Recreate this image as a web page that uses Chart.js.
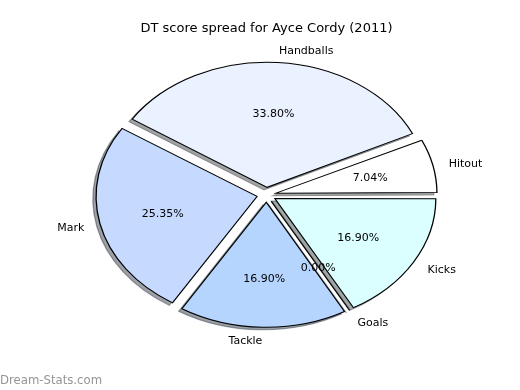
<!DOCTYPE html>
<html lang="en">
<head>
    <meta charset="UTF-8">
    <title>DT score spread for Ayce Cordy (2011)</title>
    <script src="https://cdn.jsdelivr.net/npm/chart.js"></script>
    <style>
        body { margin: 0; background: #fff; }
        .chart-container { width: 520px; height: 390px; }
    </style>
</head>
<body>
    <div class="chart-container">
        <canvas id="pieChart"></canvas>
    </div>

    <script>
        // Slices in matplotlib order (counter-clockwise from 3 o'clock)
        const categories = ['Hitout', 'Handballs', 'Mark', 'Tackle', 'Goals', 'Kicks'];
        const counts = [5, 24, 18, 12, 0, 12];
        const sliceColors = ['#ffffff', '#eaf1ff', '#c6d9ff', '#b5d5ff', '#d8e8ff', '#dbffff'];
        const chartTitle = 'DT score spread for Ayce Cordy (2011)';
        const watermark = 'Dream-Stats.com';

        const total = counts.reduce((a, b) => a + b, 0);
        const pctLabels = counts.map(v => (v / total * 100).toFixed(2) + '%');

        // geometry of the elliptical, exploded pie
        const R = 125;            // vertical radius
        const SX = 161 / 125;     // horizontal stretch
        const EXPLODE = 0.06;
        const OFF = EXPLODE * R;

        // chart.js draws clockwise, so feed it reversed
        const order = categories.map((c, i) => i).reverse();

        function shadowColor(hex) {
            const n = parseInt(hex.slice(1), 16);
            const r = Math.round(((n >> 16) & 255) * 0.3);
            const g = Math.round(((n >> 8) & 255) * 0.3);
            const b = Math.round((n & 255) * 0.3);
            return `rgba(${r}, ${g}, ${b}, 0.5)`;
        }

        function goalsLine(ctx, el, color) {
            if (el.endAngle - el.startAngle > 0) return;
            const a = el.startAngle;
            const ox = el.x + Math.cos(a) * OFF, oy = el.y + Math.sin(a) * OFF;
            ctx.beginPath();
            ctx.moveTo(ox, oy);
            ctx.lineTo(ox + Math.cos(a) * R, oy + Math.sin(a) * R);
            ctx.strokeStyle = color;
            ctx.lineWidth = 1;
            ctx.stroke();
        }

        const mplPie = {
            id: 'mplPie',
            afterDatasetsUpdate(chart) {
                // undo chart.js growing the radius of offset arcs
                chart.getDatasetMeta(0).data.forEach(el => {
                    const circ = el.endAngle - el.startAngle;
                    const fix = 1 - Math.sin(Math.min(Math.PI, circ));
                    el.outerRadius = R - OFF * fix;
                });
            },
            beforeDatasetsDraw(chart) {
                const ctx = chart.ctx;
                const cx = (chart.chartArea.left + chart.chartArea.right) / 2;
                ctx.save();
                ctx.translate(cx, 0);
                ctx.scale(SX, 1);
                ctx.translate(-cx, 0);
                // shadows under all wedges
                chart.getDatasetMeta(0).data.forEach((el, i) => {
                    const sc = shadowColor(sliceColors[order[i]]);
                    ctx.save();
                    ctx.translate(-2.5, 2.5);
                    const saved = el.options;
                    el.options = { ...saved, backgroundColor: sc, borderColor: sc };
                    el.draw(ctx);
                    el.options = saved;
                    goalsLine(ctx, el, sc);
                    ctx.restore();
                });
            },
            afterDatasetsDraw(chart) {
                const ctx = chart.ctx;
                chart.getDatasetMeta(0).data.forEach(el => goalsLine(ctx, el, '#000'));
                ctx.restore();

                ctx.save();
                ctx.fillStyle = '#000';
                ctx.font = '11px "DejaVu Sans"';
                ctx.textBaseline = 'middle';
                chart.getDatasetMeta(0).data.forEach((el, i) => {
                    const k = order[i];
                    const mid = (el.startAngle + el.endAngle) / 2;
                    const c = Math.cos(mid), s = Math.sin(mid);
                    const dl = (1.1 + EXPLODE) * R;
                    ctx.textAlign = c > 0 ? 'left' : 'right';
                    ctx.fillText(categories[k], el.x + SX * dl * c, el.y + dl * s + 1.5);
                    const dp = (0.6 + EXPLODE) * R;
                    ctx.textAlign = 'center';
                    ctx.fillText(pctLabels[k], el.x + SX * dp * c, el.y + dp * s + 1.5);
                });
                ctx.restore();
            },
            afterDraw(chart) {
                const ctx = chart.ctx;
                ctx.save();
                ctx.fillStyle = '#959595';
                ctx.font = '11.7px "DejaVu Sans"';
                ctx.textAlign = 'left';
                ctx.textBaseline = 'alphabetic';
                ctx.fillText(watermark, 0, 384);
                ctx.restore();
            }
        };

        const ctx = document.getElementById('pieChart').getContext('2d');
        const pieChart = new Chart(ctx, {
            type: 'pie',
            data: {
                labels: order.map(i => categories[i]),
                datasets: [{
                    data: order.map(i => counts[i]),
                    backgroundColor: order.map(i => sliceColors[i]),
                    borderColor: '#000',
                    borderWidth: 1,
                    borderJoinStyle: 'miter',
                    offset: OFF * 4,
                    hoverOffset: 0,
                    clip: false
                }]
            },
            options: {
                responsive: true,
                maintainAspectRatio: false,
                animation: false,
                rotation: 90,
                radius: R,
                layout: { padding: { left: 13, bottom: 47 } },
                plugins: {
                    legend: { display: false },
                    tooltip: { enabled: false },
                    title: {
                        display: true,
                        text: chartTitle,
                        color: '#000',
                        font: { family: 'DejaVu Sans', size: 13, weight: 'normal' },
                        padding: { top: 21, bottom: 10 }
                    }
                }
            },
            plugins: [mplPie]
        });
    </script>
</body>
</html>
